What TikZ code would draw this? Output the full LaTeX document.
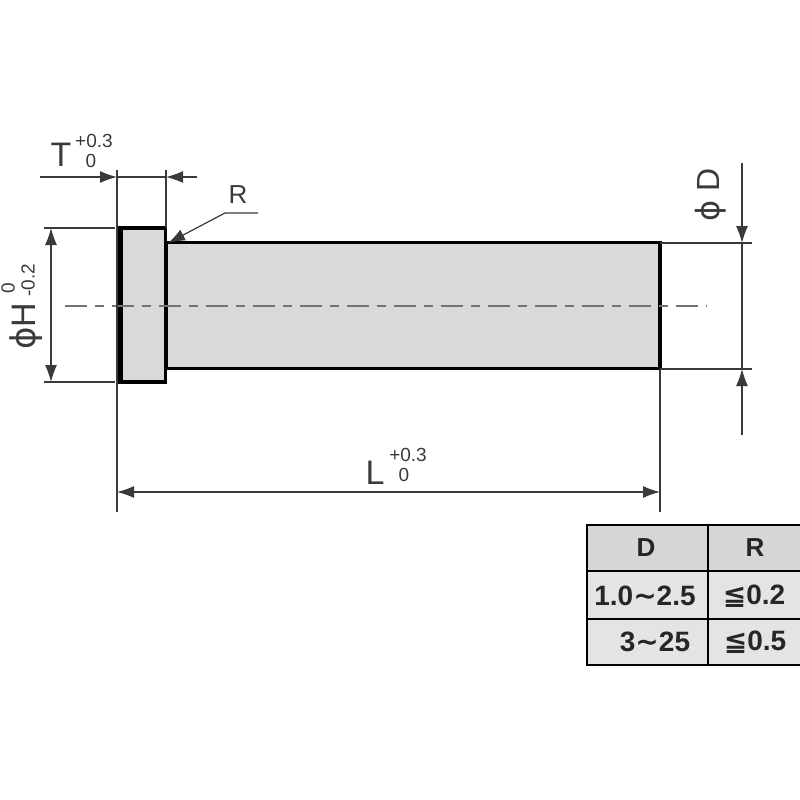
\documentclass[tikz,border=0pt]{standalone}
\usepackage{fontspec}
\setmainfont{Liberation Sans}
\newfontfamily\symfont{DejaVu Sans}
\usetikzlibrary{arrows.meta}
\tikzset{>={Latex[length=17pt,width=12pt]}}
\definecolor{partgray}{HTML}{D9D9D9}
\definecolor{headgray}{HTML}{D6D6D6}
\definecolor{rowgray}{HTML}{E4E4E4}
\definecolor{inkgray}{HTML}{3A3A3A}
\tikzstyle{part}=[draw=black, fill=partgray, line width=3.5pt]
\tikzstyle{dimline}=[draw=inkgray, line width=1.2pt]
\tikzstyle{center}=[draw=black!55, line width=2pt, dash pattern=on 22pt off 8pt on 9pt off 8pt]
\tikzstyle{label}=[inner sep=0pt, text=inkgray, font=\fontsize{34}{34}\selectfont]
\tikzstyle{tol}=[inner sep=0pt, text=inkgray, font=\fontsize{19}{19}\selectfont]
\tikzstyle{cell}=[draw=black, line width=2pt, inner sep=0pt, anchor=north west]
\tikzstyle{entry}=[inner sep=0pt, font=\fontsize{28}{28}\selectfont\bfseries, text=black!85]
\newcommand{\tablecell}[6]{\node[cell, fill=#5, minimum width=#3pt, minimum height=#4pt] (#6) at (#1,#2) {};}
\begin{document}
\begin{tikzpicture}[x=1pt, y=-1pt]
\useasboundingbox (0,0) rectangle (800,800);
% pin
\draw[part] (166,242.5) rectangle (660,368.5);
\draw[part] (119,228) rectangle (165.5,382);
\draw[black, line width=6pt] (120,226.5) -- (120,383.5);
\draw[center] (65,305.5) -- (707,305.5);
% extension lines
\coordinate (ta) at (117,170);
\coordinate (tb) at (117,512);
\coordinate (ua) at (166,170);
\coordinate (ub) at (166,228);
\coordinate (ha) at (44,228);
\coordinate (hb) at (115,228);
\coordinate (hc) at (44,382);
\coordinate (hd) at (115,382);
\coordinate (da) at (660,243);
\coordinate (db) at (752,243);
\coordinate (dc) at (660,369);
\coordinate (dd) at (752,369);
\coordinate (la) at (660,369);
\coordinate (lb) at (660,512);
\draw[dimline] (ta) -- (tb);
\draw[dimline] (ua) -- (ub);
\draw[dimline] (ha) -- (hb);
\draw[dimline] (hc) -- (hd);
\draw[dimline] (da) -- (db);
\draw[dimline] (dc) -- (dd);
\draw[dimline] (la) -- (lb);
% dimensions
\coordinate (t1) at (40,177);
\coordinate (t2) at (117,177);
\coordinate (t3) at (197,177);
\coordinate (t4) at (166,177);
\draw[dimline, ->] (t1) -- (t2);
\draw[dimline, ->] (t3) -- (t4);
\draw[dimline] (t2) -- (t4);
\coordinate (h1) at (51,228);
\coordinate (h2) at (51,382);
\draw[dimline, <->] (h1) -- (h2);
\coordinate (d1) at (742,163);
\coordinate (d2) at (742,243);
\coordinate (d3) at (742,435);
\coordinate (d4) at (742,369);
\draw[dimline, ->] (d1) -- (d2);
\draw[dimline, ->] (d3) -- (d4);
\draw[dimline] (d2) -- (d4);
\coordinate (l1) at (117,492);
\coordinate (l2) at (660,492);
\draw[dimline, <->] (l1) -- (l2);
% R leader
\coordinate (r1) at (258,213);
\coordinate (r2) at (225,213);
\coordinate (r3) at (168,243);
\draw[dimline, ->] (r1) -- (r2) -- (r3);
% labels
\node[label] (tlabel) at (61,155) {T};
\node[tol] (tplus) at (94,141) {+0.3};
\node[tol] (tzero) at (91,161) {0};
\node[label, font=\fontsize{26}{26}\selectfont] (rlabel) at (238,195) {R};
\node[label, rotate=90] (hlabel) at (26,326) {{\symfont ϕ}H};
\node[tol, rotate=90] (hzero) at (8,288) {0};
\node[tol, rotate=90] (htol) at (28,280) {-0.2};
\node[label, font=\fontsize{32}{32}\selectfont, rotate=90] (dlabel) at (711,195) {{\symfont ϕ} D};
\node[label] (llabel) at (375,473) {L};
\node[tol] (lplus) at (408,455) {+0.3};
\node[tol] (lzero) at (404,475) {0};
% table
\tablecell{586}{524}{121}{46}{headgray}{c11}
\tablecell{707}{524}{93}{46}{headgray}{c12}
\tablecell{586}{570}{121}{48}{rowgray}{c21}
\tablecell{707}{570}{93}{48}{rowgray}{c22}
\tablecell{586}{618}{121}{46}{rowgray}{c31}
\tablecell{707}{618}{93}{46}{rowgray}{c32}
\node[entry, font=\fontsize{26}{26}\selectfont\bfseries] (tdh) at (646,548) {D};
\node[entry, font=\fontsize{26}{26}\selectfont\bfseries] (trh) at (755,548) {R};
\node[entry] (td1) at (645,596) {1.0{\symfont ∼}2.5};
\node[entry] (tr1) at (754,596) {{\symfont ≦}0.2};
\node[entry] (td2) at (655,642) {3{\symfont ∼}25};
\node[entry] (tr2) at (755,642) {{\symfont ≦}0.5};
\end{tikzpicture}
\end{document}
